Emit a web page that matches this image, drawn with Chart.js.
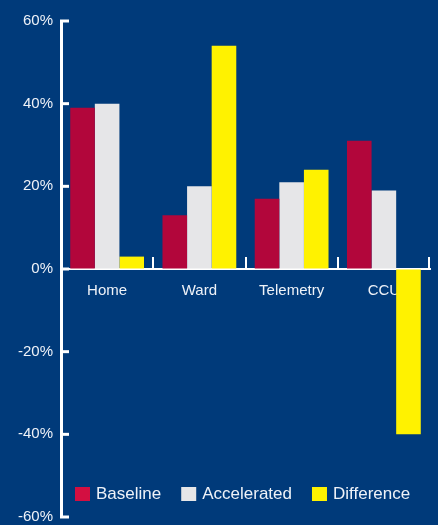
<!DOCTYPE html>
<html>
<head>
<meta charset="utf-8">
<script src="https://cdn.jsdelivr.net/npm/chart.js@4"></script>
<style>
html,body{margin:0;padding:0;background:#003a7a;}
#wrap{width:438px;height:525px;position:relative;}
canvas{display:block;}
</style>
</head>
<body>
<div id="wrap"><canvas id="c" width="438" height="525"></canvas></div>
<script>
const categories = ["Home", "Ward", "Telemetry", "CCU"];
const baseline = [39, 13, 17, 31];
const accelerated = [40, 20, 21, 19];
const difference = [3, 54, 24, -40];
const yTicks = [-60, -40, -20, 0, 20, 40, 60];

const FG = '#eef2f8';
const FONT = '"Liberation Sans", Arial, sans-serif';

const axisTicks = {
  id: 'axisTicks',
  beforeDatasetsDraw(chart) {
    const ctx = chart.ctx;
    const x = chart.scales.x, y = chart.scales.y;
    const left = chart.chartArea.left;
    ctx.save();
    ctx.strokeStyle = '#ffffff';
    ctx.lineWidth = 3;
    yTicks.forEach(v => {
      const py = y.getPixelForValue(v);
      ctx.beginPath();
      ctx.moveTo(left - 1, py);
      ctx.lineTo(left + 8, py);
      ctx.stroke();
    });
    const zy = y.getPixelForValue(0);
    ctx.lineWidth = 2;
    for (let i = 1; i <= categories.length; i++) {
      const px = Math.round((x.getPixelForValue(i - 1) + x.getPixelForValue(i)) / 2) || 0;
      const bx = i < categories.length ? px : chart.chartArea.right - 1;
      ctx.beginPath();
      ctx.moveTo(bx, zy);
      ctx.lineTo(bx, zy - 12);
      ctx.stroke();
    }
    ctx.restore();
  },
  afterDraw(chart) {
    const ctx = chart.ctx;
    ctx.save();
    ctx.font = '17px ' + FONT;
    ctx.textBaseline = 'middle';
    let px = 75;
    const cy = 494;
    chart.data.datasets.forEach(ds => {
      ctx.fillStyle = ds.legendColor || ds.backgroundColor;
      ctx.fillRect(px, cy - 7, 15, 14);
      px += 21;
      ctx.fillStyle = FG;
      ctx.fillText(ds.label, px, cy);
      px += ctx.measureText(ds.label).width + 20;
    });
    ctx.restore();
  }
};

new Chart(document.getElementById('c'), {
  type: 'bar',
  data: {
    labels: categories,
    datasets: [
      {label: 'Baseline', data: baseline, backgroundColor: '#b2063b', legendColor: '#d30f41'},
      {label: 'Accelerated', data: accelerated, backgroundColor: '#e6e6e8'},
      {label: 'Difference', data: difference, backgroundColor: '#fff200'}
    ]
  },
  options: {
    responsive: false,
    animation: false,
    layout: {padding: {left: 0, right: 8, top: 21, bottom: 8}},
    plugins: {legend: {display: false}, tooltip: {enabled: false}},
    datasets: {bar: {categoryPercentage: 0.8, barPercentage: 1.0}},
    scales: {
      x: {
        position: {y: 0},
        afterFit(s) { s.height = 0; s.paddingTop = 0; s.paddingBottom = 0; },
        grid: {display: true, drawOnChartArea: false, drawTicks: false},
        border: {display: true, color: '#ffffff', width: 2},
        ticks: {color: FG, font: {family: FONT, size: 15}, padding: 13, maxRotation: 0}
      },
      y: {
        min: -60, max: 60,
        afterFit(s) { s.width = 61; s.paddingTop = 0; s.paddingBottom = 0; },
        afterBuildTicks(s) { s.ticks = yTicks.map(v => ({value: v})); },
        grid: {display: true, drawOnChartArea: false, drawTicks: false},
        border: {display: true, color: '#ffffff', width: 3},
        ticks: {color: FG, font: {family: FONT, size: 15}, padding: 8, callback: v => v + '%'}
      }
    }
  },
  plugins: [axisTicks]
});
</script>
</body>
</html>
